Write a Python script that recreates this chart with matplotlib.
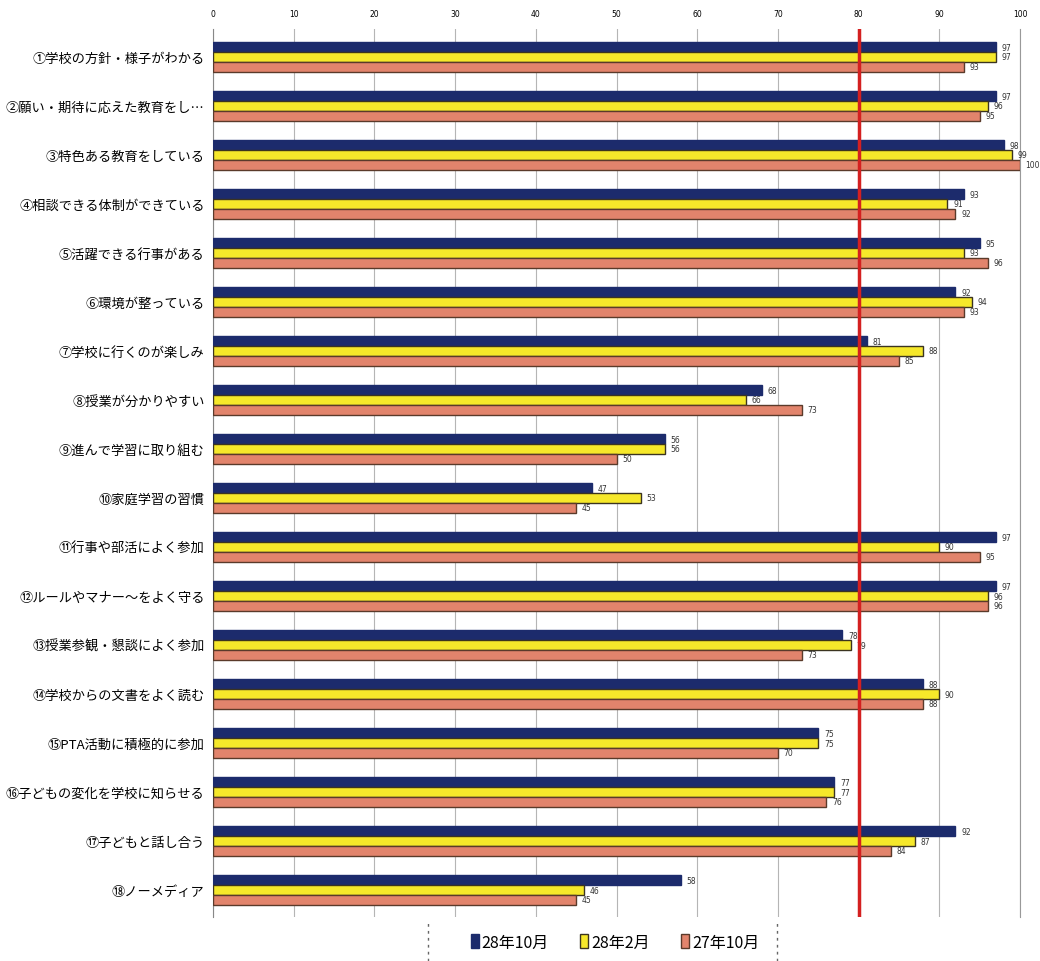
import matplotlib
matplotlib.use("Agg")
import matplotlib.pyplot as plt
from matplotlib.lines import Line2D
import numpy as np

plt.rcParams['font.family'] = ['Noto Sans CJK JP', 'DejaVu Sans']

categories = [
    "①学校の方針・様子がわかる",
    "②願い・期待に応えた教育をし…",
    "③特色ある教育をしている",
    "④相談できる体制ができている",
    "⑤活躍できる行事がある",
    "⑥環境が整っている",
    "⑦学校に行くのが楽しみ",
    "⑧授業が分かりやすい",
    "⑨進んで学習に取り組む",
    "⑩家庭学習の習慣",
    "⑪行事や部活によく参加",
    "⑫ルールやマナー〜をよく守る",
    "⑬授業参観・懇談によく参加",
    "⑭学校からの文書をよく読む",
    "⑮PTA活動に積極的に参加",
    "⑯子どもの変化を学校に知らせる",
    "⑰子どもと話し合う",
    "⑱ノーメディア",
]
series_names = ["28年10月", "28年2月", "27年10月"]
s_28oct = [97, 97, 98, 93, 95, 92, 81, 68, 56, 47, 97, 97, 78, 88, 75, 77, 92, 58]
s_28feb = [97, 96, 99, 91, 93, 94, 88, 66, 56, 53, 90, 96, 79, 90, 75, 77, 87, 46]
s_27oct = [93, 95, 100, 92, 96, 93, 85, 73, 50, 45, 95, 96, 73, 88, 70, 76, 84, 45]
xticks = [0, 10, 20, 30, 40, 50, 60, 70, 80, 90, 100]
target = 80

colors = ["#1c2b6c", "#f6e82a", "#e2846c"]
edges = ["#1c2b6c", "#3b3420", "#5a3a2a"]

fig = plt.figure(figsize=(10.4, 9.62), dpi=100)
fig.patch.set_facecolor("white")
ax = fig.add_axes([213/1040, 1 - 918/962, (1020-213)/1040, (918-30)/962])

y = np.arange(len(categories))
h = 0.2
offsets = [-0.2, 0.0, 0.2]
for vals, off, c, e, name in zip([s_28oct, s_28feb, s_27oct], offsets, colors, edges, series_names):
    bars = ax.barh(y + off, vals, height=h, color=c, edgecolor=e, linewidth=1.0, label=name, zorder=3)
    for b, v in zip(bars, vals):
        ax.text(v + 0.7, b.get_y() + b.get_height()/2, str(v), va="center", ha="left",
                fontsize=5.5, color="#333333", zorder=4, family="DejaVu Sans")

ax.set_xlim(0, 100)
ax.set_ylim(17.55, -0.57)
ax.set_yticks(y)
ax.set_yticklabels(categories, fontsize=9.5)
ax.tick_params(axis="y", length=0, pad=6)
ax.xaxis.tick_top()
ax.set_xticks(xticks)
ax.set_xticklabels([str(t) for t in xticks], fontsize=5.5, family="DejaVu Sans")
ax.tick_params(axis="x", length=0, pad=8)
ax.grid(axis="x", color="#b5b5b5", linewidth=0.8, zorder=0)
ax.axvline(target, color="#d42020", linewidth=2.5, zorder=5)
for s in ["top", "bottom"]:
    ax.spines[s].set_visible(False)
ax.spines["left"].set_color("#888888")
ax.spines["right"].set_color("#999999")

handles = [plt.Rectangle((0, 0), 1, 1, facecolor=c, edgecolor=e) for c, e in zip(colors, edges)]
leg = fig.legend(handles, series_names, loc="center", bbox_to_anchor=(615/1040, 1 - 943/962),
                 ncol=3, frameon=False, fontsize=11.5, handlelength=0.5, handleheight=0.9,
                 handletextpad=0.15, columnspacing=2.0)
for xl in [428/1040, 777/1040]:
    fig.add_artist(Line2D([xl, xl], [1 - 962/962, 1 - 924/962], transform=fig.transFigure,
                          color="#666666", linestyle=(0, (2, 3)), linewidth=1.0))

fig.savefig("out.png", dpi=100, facecolor="white")
